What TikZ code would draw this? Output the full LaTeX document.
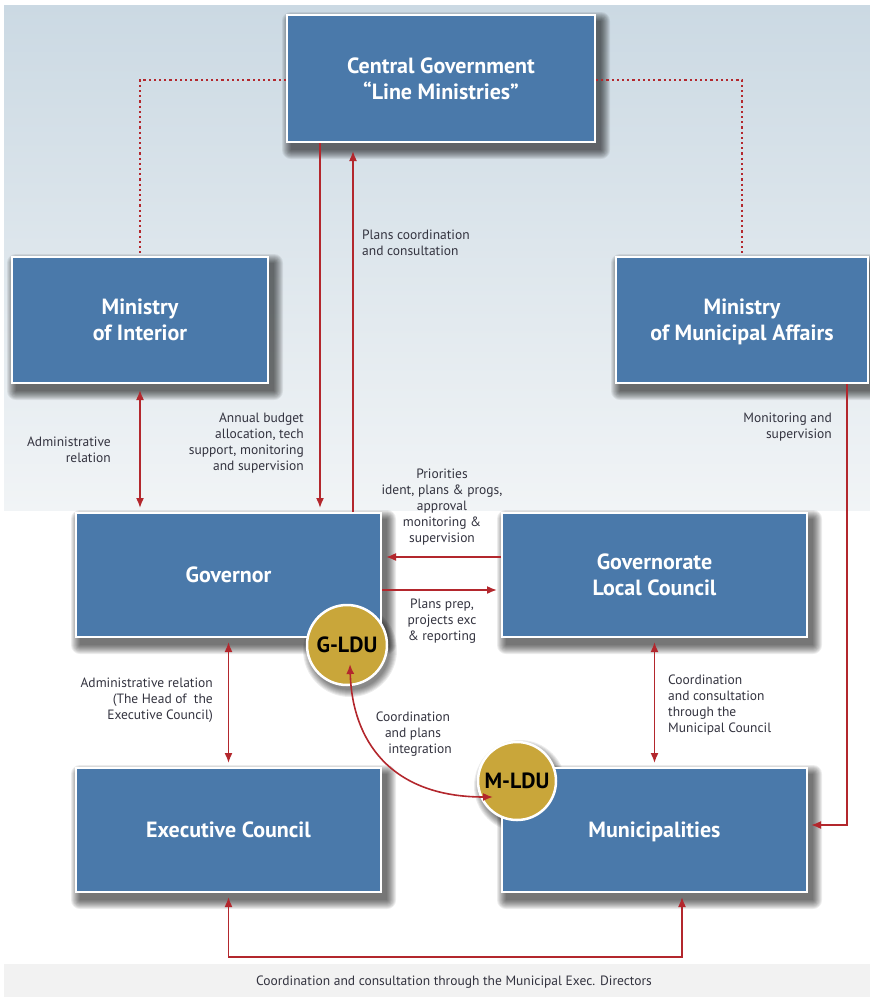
\documentclass[tikz,border=0pt]{standalone}
\usepackage{fontspec}
\setmainfont{PT Sans}
\usetikzlibrary{arrows.meta,calc}
\definecolor{boxblue}{HTML}{4A79AA}
\definecolor{arrred}{HTML}{B3272D}
\definecolor{gold}{HTML}{C9A63A}
\definecolor{lbl}{HTML}{33333F}
\definecolor{bgtop}{HTML}{CBD9E3}
\definecolor{bgbot}{HTML}{F1F4F6}
\definecolor{band}{HTML}{F2F2F2}
\pgfdeclarelayer{bg}
\pgfdeclarelayer{shadow}
\pgfsetlayers{bg,shadow,main}
\newcommand\boxshadow[1]{%
  \begin{pgfonlayer}{shadow}
  \foreach \r in {0,1,...,9}{%
    \fill[black, opacity=0.075, rounded corners=\r pt]
      ([shift={(5pt-\r pt,-7pt-\r pt)}]#1.south west) rectangle
      ([shift={(5pt+\r pt,-7pt+\r pt)}]#1.north east);
  }
  \end{pgfonlayer}}
\newcommand\circshadow[2]{%
  \begin{pgfonlayer}{shadow}
  \foreach \r in {0,1,...,7}{%
    \fill[black, opacity=0.075] ([shift={(3pt,-5pt)}]#1.center) circle (#2pt+\r pt);
  }
  \end{pgfonlayer}}
\begin{document}
\begin{tikzpicture}[x=1pt,y=-1pt,
  orgbox/.style={draw=white, line width=2pt, fill=boxblue, text=white,
    font=\bfseries\fontsize{22}{26}\selectfont, align=center, inner sep=0pt, text depth=0pt},
  ldu/.style={circle, draw=white, line width=2.5pt, fill=gold, minimum size=80pt,
    inner sep=0pt, font=\bfseries\fontsize{22}{24}\selectfont},
  lab/.style={text=lbl, font=\fontsize{13.5}{16}\selectfont, inner sep=0pt},
  rel/.style={draw=arrred, line width=1.6pt},
  dotrel/.style={draw=arrred, line width=2.2pt, dash pattern=on 2.2pt off 3pt},
  onetip/.style={-{Latex[length=10pt,width=8pt]}, shorten >=4pt},
  twotips/.style={{Latex[length=10pt,width=8pt]}-{Latex[length=10pt,width=8pt]}, shorten >=4pt, shorten <=4pt},
]
\useasboundingbox (0,0) rectangle (870,997);
% backgrounds
\begin{pgfonlayer}{bg}
\shade[top color=bgtop, bottom color=bgbot] (4,5) rectangle (870,510);
\fill[band] (4,964) rectangle (870,997);
\end{pgfonlayer}

% boxes
\node[orgbox, minimum width=308pt, minimum height=127pt] (cg) at (441,78.5) {Central Government\\``Line Ministries''};
\node[orgbox, minimum width=256pt, minimum height=126pt] (moi) at (140,320) {Ministry\\of Interior};
\node[orgbox, minimum width=252pt, minimum height=126pt] (mma) at (742,320) {Ministry\\of Municipal Affairs};
\node[orgbox, minimum width=305pt, minimum height=124pt] (gov) at (228.5,575) {Governor};
\node[orgbox, minimum width=305pt, minimum height=124pt] (glc) at (654.5,575) {Governorate\\Local Council};
\node[orgbox, minimum width=305pt, minimum height=124pt] (exe) at (228.5,830) {Executive Council};
\node[orgbox, minimum width=305pt, minimum height=124pt] (mun) at (654.5,830) {Municipalities};
\boxshadow{cg}\boxshadow{moi}\boxshadow{mma}\boxshadow{gov}
\boxshadow{glc}\boxshadow{exe}\boxshadow{mun}

% dotted links
\draw[dotrel] (cg.west |- 0,80) -| (moi.north);
\draw[dotrel] (cg.east |- 0,80) -| (mma.north);

% connectors
\draw[rel, onetip] (cg.south -| 320,0) -- (gov.north -| 320,0);
\draw[rel, onetip, shorten >=8pt] (gov.north -| 353,0) -- (cg.south -| 353,0);
\draw[rel, twotips, shorten <=6pt] (moi.south) -- (moi.south |- gov.north);
\draw[rel, onetip] (glc.west |- 0,557) -- (gov.east |- 0,557);
\draw[rel, onetip] (gov.east |- 0,590) -- (glc.west |- 0,590);
\draw[rel, twotips] (gov.south) -- (exe.north);
\draw[rel, twotips] (glc.south) -- (mun.north);
\draw[rel, onetip, shorten >=3pt] (mma.south -| 847,0) |- ([yshift=5pt]mun.east);
\draw[rel, twotips] (exe.south) -- (exe.south |- 0,957) -| (mun.south -| 682,0);

% LDU circles
\node[ldu] (g) at (347,645) {G-LDU};
\node[ldu, minimum size=78pt] (m) at (517,781) {M-LDU};
\circshadow{g}{40}\circshadow{m}{39}
\draw[rel, {Latex[length=10pt,width=8pt]}-{Latex[length=10pt,width=8pt]}]
  ($(g.center)+(3,19)$) .. controls (352,740) and (390,797) .. ($(m.center)+(-24,16)$);

% labels
\node[lab, anchor=west, align=left] (l1) at (362,243) {Plans coordination\\and consultation};
\node[lab, anchor=east, align=right] (l2) at (111,450) {Administrative\\relation};
\node[lab, anchor=east, align=right] (l3) at (304,443) {Annual budget\\allocation, tech\\support, monitoring\\and supervision};
\node[lab, align=center] (l4) at (442,507) {Priorities\\ident, plans \& progs,\\approval\\monitoring \&\\supervision};
\node[lab, align=center] (l5) at (442,621) {Plans prep,\\projects exc\\\& reporting};
\node[lab, anchor=east, align=right] (l6) at (832,427) {Monitoring and\\supervision};
\node[lab, anchor=east, align=right] (l7) at (213,700) {Administrative relation\\(The Head of\ \ the\\Executive Council)};
\node[lab, align=center] (l8) at (413,734) {Coordination\\and plans\\\hspace*{14pt}integration};
\node[lab, anchor=west, align=left] (l9) at (668,705) {Coordination\\and consultation\\through the\\Municipal Council};
\node[lab] (l10) at (454,982) {Coordination and consultation through the Municipal Exec. Directors};
\end{tikzpicture}
\end{document}
